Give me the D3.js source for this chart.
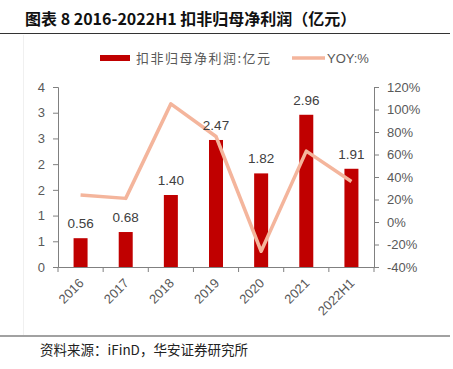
<!DOCTYPE html>
<html>
<head>
<meta charset="utf-8">
<script src="https://cdn.jsdelivr.net/npm/d3@7"></script>
<style>
  body { margin: 0; background: #fff; }
  text { font-family: "Liberation Sans", Arial, "Noto Sans CJK SC", sans-serif; }
  .cjk { font-family: "Noto Sans CJK SC", sans-serif; }
</style>
</head>
<body>
<div id="vis"></div>
<script>
// data
let years = ['2016', '2017', '2018', '2019', '2020', '2021', '2022H1'];
let profit = [0.56, 0.68, 1.40, 2.47, 1.82, 2.96, 1.91]; // 亿元
let yoy = [24, 21, 105, 76, -26, 63, 36]; // %
let leftTicks = [0, 0.5, 1, 1.5, 2, 2.5, 3, 3.5];
let rightTicks = [-40, -20, 0, 20, 40, 60, 80, 100, 120];

let W = 453, H = 369;
let margin = { top: 87, left: 58, right: 79, bottom: 102 };

let svg = d3
  .select('#vis')
  .append('svg')
  .attr('width', W)
  .attr('height', H)
  .style('background-color', 'white');

// title + rules
svg.append('text')
  .attr('class', 'cjk')
  .attr('x', 25)
  .attr('y', 25)
  .attr('font-size', 16)
  .attr('font-weight', 'bold')
  .attr('fill', '#111')
  .text('图表 8 2016-2022H1 扣非归母净利润（亿元）');

svg.append('line')
  .attr('x1', 0).attr('x2', 450)
  .attr('y1', 33.5).attr('y2', 33.5)
  .attr('stroke', '#333').attr('stroke-width', 1.2);

// faint chart frame
svg.append('line')
  .attr('x1', 23.5).attr('x2', 23.5)
  .attr('y1', 35).attr('y2', 335)
  .attr('stroke', '#f0f0f0');

svg.append('line')
  .attr('x1', 0).attr('x2', 450)
  .attr('y1', 336).attr('y2', 336)
  .attr('stroke', '#444').attr('stroke-width', 1.2);

svg.append('text')
  .attr('class', 'cjk')
  .attr('x', 40)
  .attr('y', 355)
  .attr('font-size', 13.5)
  .attr('fill', '#222')
  .text('资料来源：iFinD，华安证券研究所');

let x = d3.scaleBand()
  .domain(years)
  .range([margin.left, W - margin.right]);

let yL = d3.scaleLinear()
  .domain([0, 3.5])
  .range([H - margin.bottom, margin.top]);

let yR = d3.scaleLinear()
  .domain([-40, 120])
  .range([H - margin.bottom, margin.top]);

let axisColor = '#808080';
let labelColor = '#595959';

// left axis (labels rounded to integers like the original)
let gL = svg.append('g')
  .attr('transform', `translate(${margin.left},0)`)
  .call(d3.axisLeft(yL).tickValues(leftTicks).tickSize(5).tickPadding(8));

// labels are rounded half-up in the original (0.5 -> 1)
gL.selectAll('.tick text').text(d => Math.round(d + 1e-9));

let gR = svg.append('g')
  .attr('transform', `translate(${W - margin.right},0)`)
  .call(d3.axisRight(yR).tickValues(rightTicks).tickFormat(d => d + '%').tickSize(5).tickPadding(8));

let gX = svg.append('g')
  .attr('transform', `translate(0,${H - margin.bottom})`)
  .call(d3.axisBottom(x).tickSize(0).tickPadding(0));

// band boundary ticks
let bounds = years.map(d => x(d)).concat([x.range()[1]]);
svg.append('g')
  .selectAll('line')
  .data(bounds)
  .join('line')
  .attr('x1', d => d).attr('x2', d => d)
  .attr('y1', H - margin.bottom).attr('y2', H - margin.bottom + 5)
  .attr('stroke', axisColor);

gX.selectAll('.tick text')
  .attr('text-anchor', 'end')
  .attr('dy', 0)
  .attr('transform', 'translate(4,17) rotate(-45)');

[gL, gR, gX].forEach(g => {
  g.select('.domain').attr('stroke', axisColor);
  g.selectAll('.tick line').attr('stroke', axisColor);
  g.selectAll('.tick text')
    .attr('fill', labelColor)
    .attr('font-size', 13)
    .style('font-family', '"Liberation Sans", Arial, sans-serif');
});

// bars
let barW = 14;
svg.append('g')
  .selectAll('rect')
  .data(profit)
  .join('rect')
  .attr('x', (d, i) => x(years[i]) + x.bandwidth() / 2 - barW / 2)
  .attr('y', d => yL(d))
  .attr('width', barW)
  .attr('height', d => yL(0) - yL(d))
  .attr('fill', '#C00000');

// yoy line
let line = d3.line()
  .x((d, i) => x(years[i]) + x.bandwidth() / 2)
  .y(d => yR(d));

svg.append('path')
  .datum(yoy)
  .attr('d', line)
  .attr('fill', 'none')
  .attr('stroke', '#F4B59C')
  .attr('stroke-width', 3.5)
  .attr('stroke-linejoin', 'round');

// bar labels
svg.append('g')
  .selectAll('text')
  .data(profit)
  .join('text')
  .attr('x', (d, i) => x(years[i]) + x.bandwidth() / 2)
  .attr('y', d => yL(d) - 10)
  .attr('text-anchor', 'middle')
  .attr('font-size', 13.5)
  .attr('fill', '#404040')
  .text(d => d.toFixed(2));

// legend
let lg = svg.append('g');
lg.append('rect')
  .attr('x', 100).attr('y', 55)
  .attr('width', 30).attr('height', 6)
  .attr('fill', '#C00000');
lg.append('text')
  .attr('class', 'cjk')
  .attr('x', 136).attr('y', 63)
  .attr('font-size', 13)
  .attr('letter-spacing', 1.5)
  .attr('fill', labelColor)
  .text('扣非归母净利润:亿元');
lg.append('line')
  .attr('x1', 292).attr('x2', 325)
  .attr('y1', 58).attr('y2', 58)
  .attr('stroke', '#F4B59C').attr('stroke-width', 3.5);
lg.append('text')
  .attr('x', 327).attr('y', 63)
  .attr('font-size', 13)
  .attr('fill', labelColor)
  .text('YOY:%');
</script>
</body>
</html>
